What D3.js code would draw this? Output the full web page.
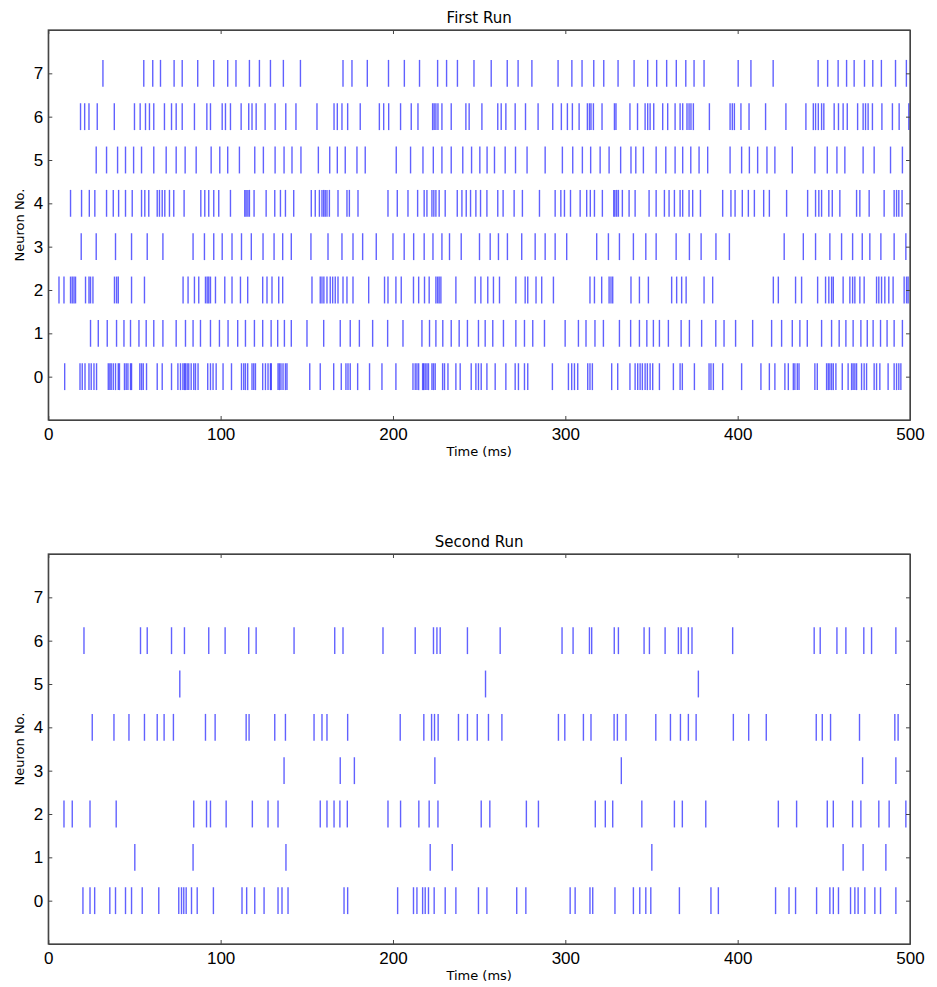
<!DOCTYPE html>
<html>
<head>
<meta charset="utf-8">
<script src="https://cdn.jsdelivr.net/npm/d3@7"></script>
<style>
  body { margin: 0; background: #fff; }
  svg { display: block; font-family: "DejaVu Sans", sans-serif; }
  .axis path, .axis line { stroke: #444; }
</style>
</head>
<body>
<div id="chart"></div>
<script>
// spike times in ms, one array per neuron (index = neuron no.)
const neurons = [0, 1, 2, 3, 4, 5, 6, 7]
const timeTicks = [0, 100, 200, 300, 400, 500]

const firstRunSpikes = [
  // 0
  [9.5, 18.4, 19.7, 21.3, 23.6, 24.9, 26.5, 28.0, 34.8, 35.7, 36.5, 37.7, 39.0, 40.6, 41.3, 44.2, 45.2, 46.2, 47.7, 48.3,
   53.1, 54.1, 55.1, 57.0, 63.2, 66.1, 71.5, 75.2, 76.7, 78.1, 79.0, 79.6, 80.6, 81.5, 82.9, 84.4, 85.4, 86.9, 92.5, 94.1,
   95.6, 97.4, 101.4, 106.3, 112.1, 113.4, 114.4, 115.7, 118.2, 119.2, 120.2, 124.4, 126.0, 127.5, 128.9, 129.4, 133.3,
   134.1, 135.0, 136.2, 137.6, 138.5, 151.7, 157.8, 165.6, 170.0, 172.7, 173.9, 175.2, 179.5, 186.4, 193.6, 201.7, 211.6,
   212.9, 213.9, 214.9, 217.2, 217.8, 218.7, 219.7, 220.6, 222.6, 223.5, 224.5, 228.8, 229.9, 231.9, 236.5, 239.0, 245.4,
   248.1, 249.6, 251.2, 254.5, 259.3, 265.5, 270.9, 272.8, 276.3, 278.2, 292.5, 301.8, 303.7, 305.3, 307.2, 313.0, 314.3,
   315.7, 326.9, 330.4, 337.5, 340.5, 342.0, 343.4, 344.7, 346.3, 347.6, 349.2, 350.7, 354.6, 362.7, 366.6, 367.9, 374.9,
   383.4, 384.5, 385.9, 391.3, 402.3, 413.5, 418.4, 421.6, 427.4, 429.4, 432.3, 433.2, 434.6, 435.6, 444.8, 446.2, 451.6,
   452.6, 453.5, 454.5, 455.5, 457.0, 460.7, 464.1, 466.1, 467.0, 468.0, 469.0, 471.9, 473.4, 474.8, 479.2, 480.6, 482.5,
   487.3, 490.8, 492.2, 493.5, 494.7],
  // 1
  [24.5, 29.0, 34.2, 39.6, 43.9, 47.7, 52.6, 56.8, 61.2, 66.5, 74.2, 79.6, 84.0, 88.3, 94.1, 99.3, 104.3, 109.9, 114.4,
   119.6, 124.4, 129.3, 133.1, 137.0, 141.0, 150.1, 159.8, 169.4, 175.2, 180.5, 188.2, 196.9, 205.8, 216.8, 221.2, 224.9,
   228.9, 233.8, 238.4, 243.2, 249.6, 253.5, 257.9, 264.1, 271.3, 276.3, 281.1, 287.9, 299.9, 307.6, 312.0, 317.2, 322.1,
   331.4, 337.9, 343.0, 347.3, 351.1, 354.6, 359.8, 367.2, 372.0, 379.1, 387.3, 392.1, 398.8, 408.7, 419.7, 425.5, 431.7,
   436.1, 440.4, 448.7, 454.5, 458.9, 462.8, 467.0, 471.5, 475.2, 478.6, 482.9, 486.7, 490.8, 495.6],
  // 2
  [6.2, 9.1, 12.9, 13.9, 14.9, 15.8, 21.6, 23.6, 24.5, 25.9, 38.4, 39.6, 40.6, 48.3, 55.8, 78.2, 81.1, 84.8, 87.3, 91.2,
   92.2, 93.1, 94.1, 97.0, 102.4, 106.6, 111.5, 115.7, 124.4, 126.9, 129.8, 133.7, 136.0, 153.0, 157.8, 158.8, 159.9,
   161.7, 163.6, 165.0, 166.5, 168.1, 171.0, 173.3, 176.8, 185.9, 195.1, 197.1, 201.7, 204.8, 211.9, 214.9, 218.3, 221.0,
   224.9, 225.9, 226.8, 227.8, 236.5, 247.7, 251.0, 255.0, 258.3, 261.8, 271.3, 276.7, 278.2, 283.0, 286.3, 293.1, 314.3,
   316.9, 321.1, 325.4, 326.5, 327.5, 338.1, 343.0, 348.2, 361.7, 364.6, 367.5, 370.1, 380.5, 385.5, 420.7, 423.6, 433.6,
   437.1, 446.4, 451.0, 452.9, 454.5, 455.5, 461.2, 465.1, 466.7, 468.0, 470.9, 473.4, 480.6, 481.9, 483.5, 485.4, 487.7,
   490.2, 496.6, 498.0, 498.9],
  // 3
  [19.1, 27.8, 39.0, 48.3, 57.4, 66.5, 84.0, 90.6, 96.0, 100.9, 106.6, 112.1, 117.8, 124.6, 131.0, 136.0, 141.0, 152.4,
   162.3, 170.4, 176.8, 182.4, 190.3, 200.0, 206.5, 212.0, 218.1, 223.2, 228.4, 232.8, 239.6, 250.2, 256.4, 261.2, 266.4,
   274.7, 282.5, 288.3, 294.1, 300.8, 318.2, 325.0, 331.4, 339.5, 346.7, 352.7, 364.3, 372.0, 378.8, 387.4, 395.2, 427.0,
   438.1, 445.2, 453.5, 460.3, 466.7, 472.3, 476.7, 483.1, 490.8, 497.6],
  // 4
  [12.9, 19.3, 23.8, 27.0, 33.8, 37.7, 40.8, 44.8, 48.7, 54.1, 56.0, 58.3, 63.2, 64.5, 66.1, 67.6, 70.3, 72.8, 78.8, 88.5,
   90.8, 93.1, 96.0, 98.9, 105.7, 114.0, 114.8, 115.8, 116.7, 119.4, 126.4, 131.4, 134.7, 137.6, 142.4, 152.6, 154.9,
   157.3, 158.8, 159.8, 160.7, 161.7, 163.1, 168.1, 173.3, 174.7, 179.7, 197.1, 202.5, 208.7, 214.3, 218.1, 219.7, 222.6,
   223.7, 224.9, 226.8, 230.3, 237.3, 240.0, 242.5, 245.0, 248.1, 250.8, 254.5, 260.8, 263.9, 270.3, 275.1, 285.0, 294.1,
   297.4, 299.5, 303.0, 308.6, 312.4, 314.5, 316.9, 321.5, 328.1, 328.8, 329.8, 330.8, 333.1, 337.0, 340.5, 348.6, 352.7,
   357.5, 360.2, 363.3, 366.6, 368.1, 371.8, 373.9, 378.4, 391.3, 396.1, 398.5, 402.7, 406.2, 409.7, 415.1, 418.4, 428.4,
   440.6, 445.2, 447.1, 448.7, 452.9, 454.9, 459.3, 469.0, 470.9, 476.3, 485.0, 490.8, 492.2, 493.5, 495.4],
  // 5
  [27.8, 33.8, 40.2, 44.8, 49.5, 54.1, 61.2, 68.4, 74.2, 79.4, 85.8, 94.5, 99.5, 104.1, 110.9, 119.8, 124.8, 131.6, 136.8,
   141.4, 146.6, 156.7, 163.3, 167.7, 172.3, 179.1, 183.9, 201.9, 210.2, 217.4, 223.4, 228.4, 233.8, 240.5, 245.6, 250.4,
   254.6, 258.9, 265.1, 271.1, 277.8, 288.3, 298.3, 304.3, 309.9, 314.7, 320.2, 325.4, 332.1, 338.1, 340.9, 345.3, 352.7,
   358.3, 363.7, 368.1, 372.8, 377.6, 382.6, 395.6, 402.3, 406.8, 411.6, 417.0, 421.6, 431.7, 444.8, 452.0, 457.6, 462.2,
   472.8, 479.2, 488.7, 495.6],
  // 6
  [18.7, 21.1, 23.6, 28.4, 38.3, 50.0, 53.3, 56.4, 58.7, 61.2, 67.4, 71.5, 74.2, 77.7, 84.8, 92.0, 94.1, 100.9, 102.8,
   105.7, 111.9, 116.3, 118.2, 120.6, 125.8, 131.6, 137.8, 143.7, 155.9, 165.8, 167.7, 170.4, 173.7, 181.0, 192.1, 194.6,
   197.5, 204.4, 210.6, 214.5, 223.0, 223.9, 224.9, 226.1, 228.4, 233.8, 242.3, 244.2, 251.6, 260.8, 262.8, 265.5, 270.9,
   276.9, 284.2, 292.7, 297.7, 301.2, 304.1, 308.0, 312.8, 314.0, 314.9, 316.3, 321.3, 328.5, 329.4, 337.5, 341.9, 346.3,
   347.8, 349.2, 351.3, 356.5, 359.4, 363.7, 366.6, 368.1, 370.6, 371.8, 372.9, 374.3, 383.6, 395.6, 396.9, 398.1, 401.9,
   406.6, 416.2, 428.0, 439.6, 443.9, 445.2, 446.8, 448.7, 450.0, 456.0, 458.5, 461.2, 463.6, 469.6, 472.8, 474.2, 475.7,
   478.2, 483.7, 489.8, 493.7, 499.3],
  // 7
  [31.7, 55.4, 60.6, 65.1, 73.0, 77.7, 86.7, 96.0, 104.1, 108.9, 116.7, 122.5, 128.9, 136.4, 146.3, 171.0, 176.2, 185.1,
   197.4, 206.6, 215.4, 225.9, 231.1, 237.4, 247.0, 257.0, 266.3, 272.6, 280.6, 295.8, 303.8, 309.7, 316.5, 322.3, 330.6,
   339.9, 347.8, 353.0, 358.8, 364.4, 369.9, 374.7, 380.5, 400.3, 407.7, 420.6, 446.7, 452.2, 458.3, 463.2, 467.6, 473.6,
   478.4, 483.4, 491.6, 497.9]
]

const secondRunSpikes = [
  // 0
  [20.1, 24.2, 26.9, 35.7, 39.0, 44.8, 48.3, 54.5, 64.1, 75.7, 77.3, 78.6, 80.0, 83.1, 86.4, 95.8, 112.4, 115.1, 119.8,
   125.2, 133.3, 135.6, 139.1, 171.6, 173.7, 202.7, 211.9, 213.9, 217.2, 218.7, 220.6, 223.9, 230.3, 236.5, 249.6, 254.5,
   271.8, 277.1, 302.8, 305.7, 314.3, 315.9, 328.8, 339.5, 343.2, 346.7, 349.6, 366.2, 384.5, 388.8, 422.0, 429.8, 433.6,
   445.8, 453.5, 455.5, 458.5, 465.5, 468.0, 469.9, 473.8, 479.6, 482.9, 491.8],
  // 1
  [50.2, 84.0, 137.9, 221.6, 234.4, 350.2, 461.2, 472.8, 486.0],
  // 2
  [9.1, 13.9, 24.2, 39.4, 84.4, 91.8, 94.1, 103.2, 118.4, 127.5, 133.3, 157.8, 161.7, 165.8, 169.2, 173.5, 197.1, 204.4,
   215.0, 221.0, 226.1, 251.2, 256.2, 277.4, 284.4, 317.4, 323.2, 327.5, 344.4, 363.3, 367.9, 381.5, 423.6, 434.2, 452.0,
   455.5, 466.7, 471.5, 481.9, 487.9, 497.6],
  // 3
  [136.8, 169.4, 177.6, 224.3, 332.5, 472.5, 491.8],
  // 4
  [25.5, 38.1, 46.8, 55.8, 63.2, 67.2, 72.6, 91.2, 96.8, 114.8, 116.5, 131.4, 137.6, 154.2, 158.8, 161.7, 173.7, 204.2,
   217.9, 222.4, 224.1, 226.2, 238.0, 243.2, 248.9, 255.4, 263.2, 296.0, 299.7, 310.5, 314.9, 328.3, 330.2, 335.2, 352.5,
   361.0, 366.8, 371.4, 375.9, 397.5, 406.4, 416.6, 445.6, 449.1, 453.9, 470.7, 491.2, 493.1],
  // 5
  [76.3, 253.7, 377.2],
  // 6
  [20.7, 53.5, 57.4, 71.5, 79.0, 93.1, 102.6, 116.3, 120.6, 142.6, 166.2, 171.0, 194.2, 212.9, 223.5, 225.5, 227.4, 243.2,
   262.2, 298.1, 304.5, 314.0, 315.3, 328.4, 330.8, 345.7, 348.8, 357.9, 365.6, 367.2, 371.4, 373.5, 397.1, 444.4, 447.9,
   457.6, 462.8, 473.2, 477.7, 491.8],
  // 7
  []
]

const panels = [
  {title: 'First Run', spikes: firstRunSpikes, top: 30},
  {title: 'Second Run', spikes: secondRunSpikes, top: 554}
]

const width = 937
const height = 987
const left = 48.3
const right = 910
const plotHeight = 390

const svg = d3.select('#chart').append('svg')
  .attr('width', width)
  .attr('height', height)

const x = d3.scaleLinear().domain([0, 500]).range([left, right])

panels.forEach((p) => {
  const y = d3.scaleLinear().domain([-1, 8]).range([p.top + plotHeight, p.top])
  const g = svg.append('g')

  // spikes
  p.spikes.forEach((times, i) => {
    g.append('g')
      .selectAll('line')
      .data(times)
      .join('line')
        .attr('x1', (d) => x(d))
        .attr('x2', (d) => x(d))
        .attr('y1', y(i - 0.31))
        .attr('y2', y(i + 0.31))
        .attr('stroke', '#0000ff')
        .attr('stroke-opacity', 0.62)
        .attr('stroke-width', 1.4)
  })

  // axes, ticks pointing inwards like matplotlib
  g.append('g')
    .attr('class', 'axis')
    .attr('transform', `translate(0,${p.top + plotHeight})`)
    .call(d3.axisBottom(x).tickValues(timeTicks).tickSizeInner(-4).tickSizeOuter(0).tickPadding(8))
    .call((a) => a.selectAll('text').style('font-size', '17px').attr('fill', '#000'))
  g.append('g')
    .attr('class', 'axis')
    .attr('transform', `translate(0,${p.top})`)
    .call(d3.axisTop(x).tickValues(timeTicks).tickSizeInner(-4).tickSizeOuter(0).tickFormat(''))
  g.append('g')
    .attr('class', 'axis')
    .attr('transform', `translate(${left},0)`)
    .call(d3.axisLeft(y).tickValues(neurons).tickSizeInner(-4).tickSizeOuter(0).tickPadding(5))
    .call((a) => a.selectAll('text').style('font-size', '17px').attr('fill', '#000'))
  g.append('g')
    .attr('class', 'axis')
    .attr('transform', `translate(${right},0)`)
    .call(d3.axisRight(y).tickValues(neurons).tickSizeInner(-4).tickSizeOuter(0).tickFormat(''))

  g.append('rect')
    .attr('x', left)
    .attr('y', p.top)
    .attr('width', right - left)
    .attr('height', plotHeight)
    .attr('fill', 'none')
    .attr('stroke', '#444')
    .attr('stroke-width', 1.3)

  g.append('text')
    .attr('x', (left + right) / 2)
    .attr('y', p.top - 7)
    .attr('text-anchor', 'middle')
    .style('font-size', '15px')
    .text(p.title)

  g.append('text')
    .attr('x', (left + right) / 2)
    .attr('y', p.top + plotHeight + 36)
    .attr('text-anchor', 'middle')
    .style('font-size', '13px')
    .text('Time (ms)')

  g.append('text')
    .attr('transform', `translate(24,${p.top + plotHeight / 2}) rotate(-90)`)
    .attr('text-anchor', 'middle')
    .style('font-size', '13px')
    .text('Neuron No.')
})
</script>
</body>
</html>
